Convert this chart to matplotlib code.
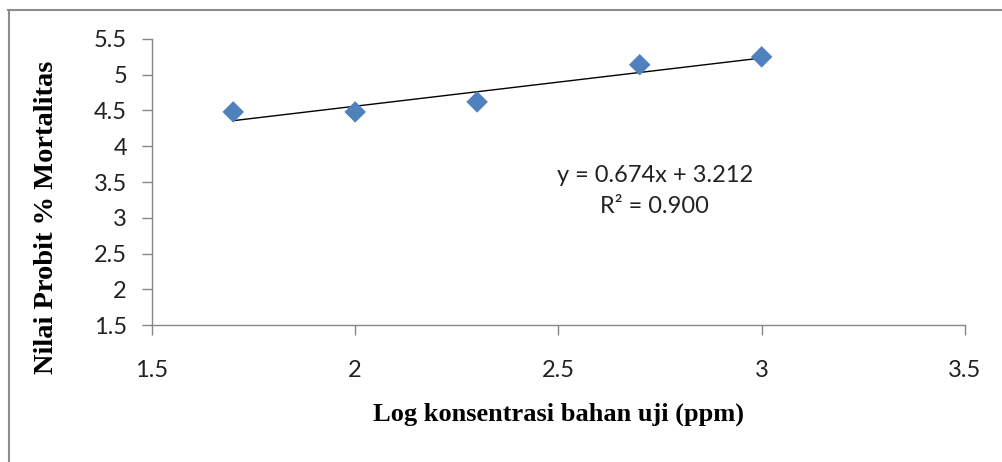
import numpy as np
import matplotlib
matplotlib.use('Agg')
import matplotlib.pyplot as plt
from matplotlib.lines import Line2D

# data
log_conc = [1.7, 2.0, 2.3, 2.7, 3.0]
probit = [4.48, 4.48, 4.62, 5.14, 5.25]
slope = 0.674
intercept = 3.212
r2 = 0.900

xticks = [1.5, 2, 2.5, 3, 3.5]
yticks = [1.5, 2, 2.5, 3, 3.5, 4, 4.5, 5, 5.5]

fig = plt.figure(figsize=(10.03, 4.62), dpi=100)
ax = fig.add_axes([0.1515, 0.2965, 0.8105, 0.6191])

# trendline over data range
xl = np.array([min(log_conc), max(log_conc)])
ax.plot(xl, slope * xl + intercept, color='black', lw=1.0, zorder=2)
ax.scatter(log_conc, probit, marker='D', s=120, color='#4F81BD', edgecolors='none', zorder=3)

ax.set_xlim(1.5, 3.5)
ax.set_ylim(1.5, 5.5)
ax.set_xticks(xticks)
ax.set_yticks(yticks)
ax.set_xticklabels([f'{t:g}' for t in xticks])
ax.set_yticklabels([f'{t:g}' for t in yticks])

for s in ['top', 'right']:
    ax.spines[s].set_visible(False)
for s in ['left', 'bottom']:
    ax.spines[s].set_color('#868686')
    ax.spines[s].set_linewidth(1.0)
ax.tick_params(axis='both', direction='out', length=7, width=1.0, color='#868686',
               labelsize=17, labelcolor='#222222')
ax.tick_params(axis='x', pad=18)
ax.tick_params(axis='y', pad=11)
for lab in ax.get_xticklabels() + ax.get_yticklabels():
    lab.set_family('Lato')

ax.set_xlabel('Log konsentrasi bahan uji (ppm)', family='Liberation Serif', fontweight='bold',
              fontsize=19, labelpad=16)
ax.set_ylabel('Nilai Probit % Mortalitas', family='Liberation Serif', fontweight='bold',
              fontsize=20.5)
# y label sits a bit below the axes centre in the original
ax.yaxis.set_label_coords(-0.114, 0.378)

ax.text(2.737, 3.37, f'y = {slope:.3f}x + {intercept:.3f}\nR² = {r2:.3f}',
        ha='center', va='center', fontsize=17, family='Lato', color='#222222', linespacing=1.6)

# outer chart border (top and left visible)
fig.add_artist(Line2D([0.008, 1.0], [1 - 9.5/462, 1 - 9.5/462], transform=fig.transFigure,
                      color='#8C8C8C', lw=1.5))
fig.add_artist(Line2D([9.5/1003, 9.5/1003], [0, 1 - 9.5/462], transform=fig.transFigure,
                      color='#8C8C8C', lw=1.5))

fig.savefig('out.png', dpi=100)
